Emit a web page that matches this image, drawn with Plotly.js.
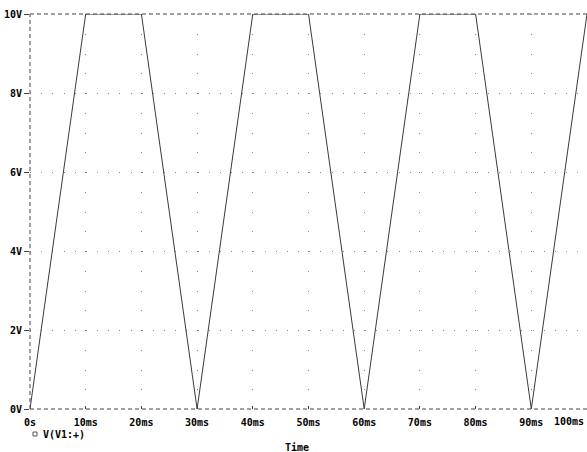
<!DOCTYPE html>
<html><head><meta charset="utf-8">
<script src="https://cdn.plot.ly/plotly-3.0.1.min.js"></script>
<style>body{margin:0;padding:0;background:#fff}#chart{width:587px;height:452px}</style>
</head><body><div id="chart"></div>
<script>
// Data
const timeMs = [0, 10, 20, 30, 40, 50, 60, 70, 80, 90, 100];
const voltage = [0, 10, 10, 0, 10, 10, 0, 10, 10, 0, 10];
const xTickVals = [0, 10, 20, 30, 40, 50, 60, 70, 80, 90, 100];
const xTickText = ['0s','10ms','20ms','30ms','40ms','50ms','60ms','70ms','80ms','90ms','100ms'];
const yTickVals = [0, 2, 4, 6, 8, 10];
const yTickText = ['0V','2V','4V','6V','8V','10V'];
const seriesName = 'V(V1:+)';

const font = {family: 'DejaVu Sans Mono, monospace', size: 10, color: '#000'};
const boldFont = {family: font.family, size: 10, color: '#000', weight: 'bold'};
const frame = {color: '#444', width: 1, dash: '4px,3px'};

// last tick label sits at the window edge; draw it shifted inward so it stays visible
const lastIdx = xTickText.length - 1;
const axisTickText = xTickText.map((t, i) => i === lastIdx ? '' : t);

const trace = {
  x: timeMs, y: voltage, mode: 'lines', type: 'scatter',
  line: {color: '#3a3a3a', width: 1}, showlegend: false, hoverinfo: 'skip', cliponaxis: false
};

const layout = {
  width: 587, height: 452,
  margin: {l: 30, r: 0, t: 14, b: 43},
  paper_bgcolor: '#fff', plot_bgcolor: '#fff',
  font: font,
  showlegend: false,
  xaxis: {
    range: [0, 100], tickvals: xTickVals, ticktext: axisTickText,
    showgrid: true, gridcolor: '#888', gridwidth: 1, griddash: '1px,18.75px',
    zeroline: false, showline: false,
    ticks: 'inside', ticklen: 3, tickcolor: '#444',
    ticklabelstandoff: 6,
    tickfont: boldFont
  },
  yaxis: {
    range: [0, 10], tickvals: yTickVals, ticktext: yTickText,
    showgrid: true, gridcolor: '#888', gridwidth: 1, griddash: '1px,10.17px',
    zeroline: false, showline: false,
    ticks: 'outside', ticklen: 5, tickcolor: '#444',
    tickfont: boldFont
  },
  shapes: [
    {type: 'line', xref: 'paper', yref: 'paper', x0: 0, x1: 1, y0: 1, y1: 1, line: frame},
    {type: 'line', xref: 'paper', yref: 'paper', x0: 0, x1: 1, y0: 0, y1: 0, line: frame},
    {type: 'line', xref: 'paper', yref: 'paper', x0: 0, x1: 0, y0: 0, y1: 1, line: frame},
    {type: 'rect', xref: 'paper', yref: 'paper', xsizemode: 'pixel', ysizemode: 'pixel',
     xanchor: 0.0, yanchor: 0, x0: 3, x1: 7, y0: -23, y1: -27,
     line: {color: '#555', width: 1}, fillcolor: 'rgba(0,0,0,0)'}
  ],
  annotations: [
    {xref: 'x', yref: 'paper', x: xTickVals[lastIdx], y: 0, xshift: -1, yshift: -12.5,
     xanchor: 'right', yanchor: 'middle', showarrow: false, text: xTickText[lastIdx],
     font: boldFont},
    {xref: 'paper', yref: 'paper', x: 0, y: 0, xshift: 11, yshift: -25,
     xanchor: 'left', yanchor: 'middle', showarrow: false, text: seriesName,
     font: boldFont},
    {xref: 'paper', yref: 'paper', x: 0.4797, y: 0, yshift: -38,
     xanchor: 'center', yanchor: 'middle', showarrow: false, text: 'Time',
     font: boldFont}
  ]
};

Plotly.newPlot('chart', [trace], layout, {staticPlot: true, displayModeBar: false});
</script>
</body></html>
